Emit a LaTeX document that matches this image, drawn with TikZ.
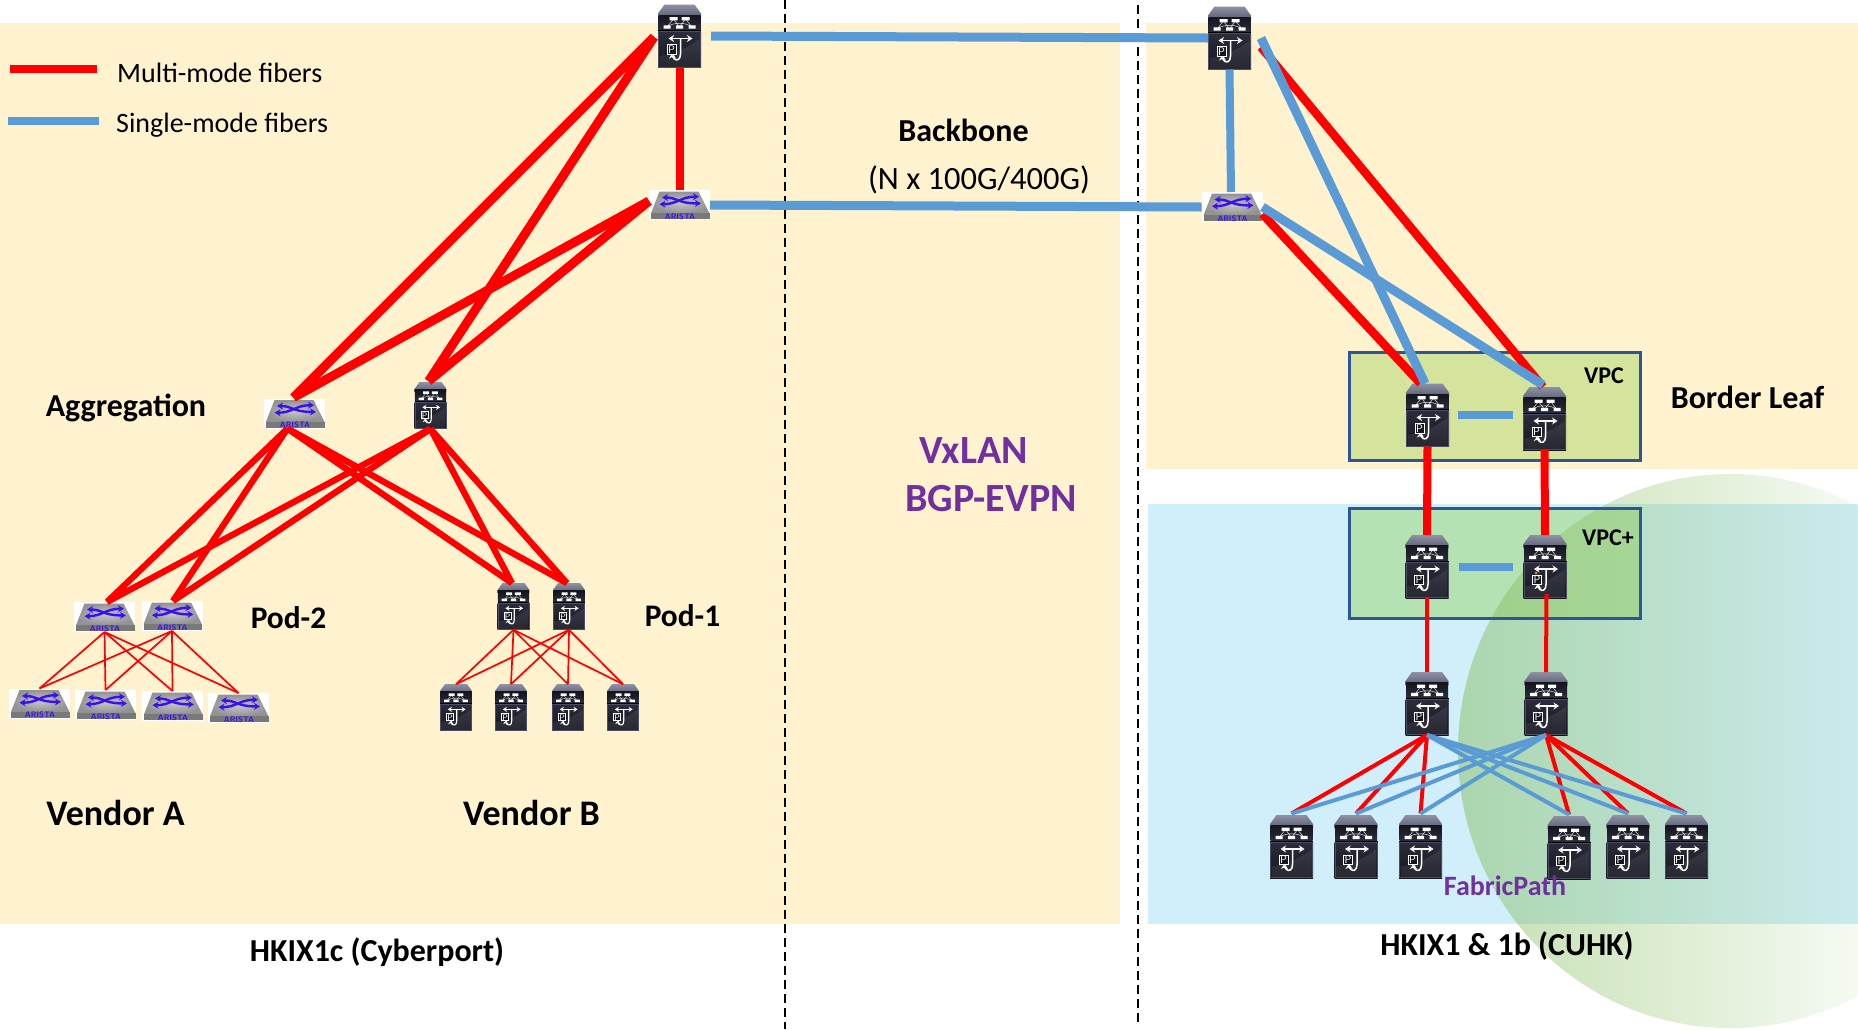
\documentclass[tikz,border=0pt]{standalone}
\usepackage{fontspec}
\setmainfont{Carlito}
\usetikzlibrary{arrows.meta}
\definecolor{cream}{HTML}{FFF2CF}
\definecolor{skyb}{HTML}{D0EFFB}
\definecolor{vpcg}{HTML}{D4E49C}
\definecolor{vpcp}{HTML}{B5E2B2}
\definecolor{boxb}{HTML}{2F5597}
\definecolor{fibb}{HTML}{5B9BD5}
\definecolor{fibr}{HTML}{FF0000}
\definecolor{purp}{HTML}{7030A0}
\definecolor{circg}{RGB}{135,190,95}
\definecolor{aris}{HTML}{3A10F0}
\definecolor{cisA}{HTML}{14151E}
\definecolor{cisB}{HTML}{2B2D3C}
\definecolor{cisC}{HTML}{8E90A3}
\definecolor{cisD}{HTML}{5A5C70}
\definecolor{cisE}{HTML}{4A4D64}
\tikzset{
  txt/.style={inner sep=0pt,font=\fontsize{#1}{#1}\selectfont},
  txb/.style={inner sep=0pt,font=\fontsize{#1}{#1}\selectfont\bfseries},
  redw/.style={draw=fibr,line width=8pt},
  redd/.style={draw=fibr,line width=9pt},
  bluw/.style={draw=fibb,line width=9pt},
  redm/.style={draw=fibr,line width=6.3pt},
  redn/.style={draw=fibr,line width=4pt},
  blun/.style={draw=fibb,line width=4pt},
  redt/.style={draw=fibr,line width=1.7pt},
  sitedash/.style={draw=black,line width=1.8pt,dash pattern=on 9pt off 5pt},
  iconbox/.style={inner sep=0pt,outer sep=0pt,rectangle},
}
% name, x, y, scale
\newcommand\ciscoicon[4]{%
  \node[iconbox,minimum width=#4*43pt,minimum height=#4*63pt] (#1) at (#2,#3) {};
  \begin{scope}[shift={(#2,#3)},scale=#4]
    \pgfmathsetmacro\csz{#4*11}
    \pgfmathsetmacro\cal{#4*5.5}
    \pgfmathsetmacro\caw{#4*7}
    \shade[top color=cisC,bottom color=cisD]
      (-15,-31.5) -- (15,-31.5) -- (21.5,-22.5) -- (21.5,-18) -- (-21.5,-18) -- (-21.5,-22.5) -- cycle;
    \shade[top color=cisA,bottom color=cisB]
      (-21,-21) rectangle (21,-6);
    \fill[black] (-21.5,-6) rectangle (21.5,-4.5);
    \shade[top color=cisB,bottom color=cisA]
      (-21.5,-4.5) rectangle (21.5,31.5);
    \fill[white,opacity=.08] (-20,31) -- (-20,20) .. controls (0,17) and (10,10) .. (20,3) -- (20,31) -- cycle;
    \draw[cisE,line width=#4*.9pt] (-21,-4.5) rectangle (21,31.2);
    \draw[white!75!gray,line width=#4*.5pt] (-12.5,-9) -- (-6,-17) -- (0,-9) -- (6,-17) -- (12.5,-9)
      (-12.5,-9) .. controls (-6,-14) and (6,-14) .. (12.5,-9);
    \fill[white] (-10,-19) rectangle (-2,-15.7) (2,-19) rectangle (10,-15.7)
      (-16,-10.7) rectangle (-9,-7.3) (-3.5,-10.7) rectangle (3.5,-7.3) (9,-10.7) rectangle (16,-7.3);
    \draw[white,line width=#4*1.5pt,{Stealth[length=\cal pt,width=\caw pt,open]}-{Stealth[length=\cal pt,width=\caw pt,open]}] (-11,2.5) -- (13,2.5);
    \draw[white,line width=#4*1.5pt,-{Stealth[length=\cal pt,width=\caw pt,open]}]
      (1,2.5) -- (1,18) .. controls (1,24) and (-3,25) .. (-5,23) .. controls (-7,21) and (-7,20) .. (-7,17);
    \draw[white,fill=cisA,line width=#4*1pt] (-12.5,8.5) rectangle (-3.5,18);
    \node[inner sep=0pt,text=white,font=\fontsize{\csz}{\csz}\selectfont\sffamily] (#1-p) at (-8,13.2) {P};
  \end{scope}
}
\newcommand\aristaicon[3]{%
  \node[iconbox,minimum width=61pt,minimum height=30pt,fill=white] (#1) at (#2,#3) {};
  \begin{scope}[shift={(#2,#3)}]
    \shade[inner color=gray!45,outer color=gray!85]
      (-20,-13.5) -- (19,-13.5) -- (30,8.3) -- (-28.5,8.3) -- cycle;
    \fill[gray!95!black] (-28.5,8.3) rectangle (30,14.3);
    \draw[aris,line width=2.4pt,{Stealth[length=6pt,width=7pt]}-{Stealth[length=6pt,width=7pt]}]
      (-17.5,-7.5) .. controls (-2,-7.5) and (-2,-1.6) .. (21.5,-1.6);
    \draw[aris,line width=2.4pt,{Stealth[length=6pt,width=7pt]}-{Stealth[length=6pt,width=7pt]}]
      (-20,-.8) .. controls (-2,-.8) and (1,-8.3) .. (19.5,-8.3);
    \node[inner sep=0pt,text=aris,font=\fontsize{8}{8}\selectfont\bfseries\sffamily] (#1-l) at (0.5,11.3) {ARISTA};
  \end{scope}
}
\begin{document}
\begin{tikzpicture}[x=1pt,y=-1pt]
\useasboundingbox (0,0) rectangle (1858,1029);
% zones
\fill[cream] (0,23) rectangle (1120,923.5);
\fill[cream] (1146,23) rectangle (1858,469);
\fill[skyb] (1148,504) rectangle (1858,924);
\fill[vpcg] (1349,352) rectangle (1640,460);
\fill[vpcp] (1349,508) rectangle (1640,618);
% translucent disc, fading to the right
\begin{scope}
  \clip (1730,751) ellipse [x radius=272,y radius=277];
  \foreach \i in {0,...,50}{
    \pgfmathsetmacro\op{0.50-0.42*\i/50}
    \fill[circg,fill opacity=\op] ({1456+8*\i},470) rectangle ({1464+8*\i},1029);
  }
\end{scope}
\draw[boxb,line width=3pt] (1349,352) rectangle (1640,460);
\draw[boxb,line width=3pt] (1349,508) rectangle (1640,618);
% site borders
\coordinate (d1t) at (785,0);
\coordinate (d1b) at (785,1029);
\coordinate (d2t) at (1138,5);
\coordinate (d2b) at (1138,1022);
% icons
\ciscoicon{tl}{679.5}{36}{1}
\aristaicon{al}{679.5}{205}
\ciscoicon{tr}{1229.5}{38}{1}
\aristaicon{ar}{1232}{207}
\aristaicon{agga}{294.5}{413.5}
\ciscoicon{aggc}{430.5}{405.5}{.74}
\aristaicon{pa}{104.5}{617}
\aristaicon{pb}{172}{616}
\aristaicon{la}{39.5}{703.5}
\aristaicon{lb}{105.5}{705}
\aristaicon{lc}{172.5}{706}
\aristaicon{ld}{238.5}{708}
\ciscoicon{qa}{513.5}{606.5}{.74}
\ciscoicon{qb}{569}{606.5}{.74}
\ciscoicon{ma}{456}{707.5}{.74}
\ciscoicon{mb}{511}{707.5}{.74}
\ciscoicon{mc}{568}{707.5}{.74}
\ciscoicon{md}{623}{707.5}{.74}
\ciscoicon{bla}{1427.5}{415}{1}
\ciscoicon{blb}{1544.5}{418.5}{1}
\ciscoicon{vpa}{1427}{566.5}{1}
\ciscoicon{vpb}{1545}{566.5}{1}
\ciscoicon{fa}{1427}{703.5}{1}
\ciscoicon{fb}{1546}{703.5}{1}
\ciscoicon{ea}{1291.5}{846.5}{1}
\ciscoicon{eb}{1356}{846.5}{1}
\ciscoicon{ec}{1420.5}{846.5}{1}
\ciscoicon{ed}{1569}{847.5}{1}
\ciscoicon{ee}{1628}{846.5}{1}
\ciscoicon{ef}{1686.5}{846.5}{1}
\fill[orange] (1536,573) circle (1.5);
% dashed
\draw[sitedash] (d1t) -- (d1b);
\draw[sitedash] (d2t) -- (d2b);
% legend
\coordinate (l1a) at (10,69); \coordinate (l1b) at (97,69);
\coordinate (l2a) at (8,121); \coordinate (l2b) at (99,121);
\draw[redw] (l1a) -- (l1b);
\draw[bluw,line width=8pt] (l2a) -- (l2b);
% backbone
\draw[bluw] ([xshift=10pt]tl.east) -- (tr.west);
\draw[bluw] (al.east) -- (ar.west);
\draw[bluw,line width=8pt] (tr.south) -- ([xshift=-1pt]ar.north);
\draw[redw] (tl.south) -- (al.north);
% left fabric
\draw[redd] ([xshift=-4pt,yshift=-1pt]tl.west) -- ([xshift=-1pt,yshift=1pt]agga.north);
\draw[redd] ([xshift=-4pt,yshift=-1pt]tl.west) -- ([xshift=-2pt,yshift=1pt]aggc.north);
\draw[redd] ([yshift=4pt]al.west) -- ([xshift=-1pt,yshift=1pt]agga.north);
\draw[redd] ([yshift=4pt]al.west) -- ([xshift=-2pt,yshift=1pt]aggc.north);
\foreach \t/\dx in {pa/2.5,pb/1}{
  \draw[redm] ([xshift=-7pt]agga.south) -- ([xshift=\dx pt]\t.north);
  \draw[redm] (aggc.south) -- ([xshift=\dx pt]\t.north);
}
\foreach \t/\dx in {qa/-1.5,qb/-2}{
  \draw[redm] ([xshift=-7pt]agga.south) -- ([xshift=\dx pt]\t.north);
  \draw[redm] (aggc.south) -- ([xshift=\dx pt]\t.north);
}
\foreach \s in {pa,pb}{
  \foreach \t in {la,lb,lc,ld}{
    \draw[redt] (\s.south) -- (\t.north);
  }
}
\foreach \s in {qa,qb}{
  \foreach \t in {ma,mb,mc,md}{
    \draw[redt] (\s.south) -- (\t.north);
  }
}
% right fabric
\draw[redw,line width=8.5pt] ([xshift=10pt,yshift=-9pt]tr.east) -- ([xshift=-1.5pt]blb.north);
\draw[redw,line width=8.5pt] ([yshift=-7pt]ar.east) -- ([xshift=-7pt]bla.north);
\draw[bluw] ([xshift=10pt]tr.east) -- ([xshift=-2.5pt]bla.north);
\draw[bluw] (ar.east) -- ([xshift=-1.5pt,yshift=2pt]blb.north);
\draw[redw] (bla.south) -- (vpa.north);
\draw[redw] (blb.south) -- (vpb.north);
\draw[bluw,line width=8pt] ([xshift=9pt]bla.east) -- ([xshift=-10pt,yshift=3.5pt]blb.west);
\draw[bluw,line width=8pt] ([xshift=10pt]vpa.east) -- ([xshift=-11pt]vpb.west);
\draw[redn] (vpa.south) -- (fa.north);
\draw[redn] ([xshift=1.5pt,yshift=4pt]vpb.south) -- (fb.north);
\foreach \t in {ea,eb,ec}{
  \draw[redn] (fa.south) -- ([yshift=1.5pt]\t.north);
}
\foreach \t in {ed,ee,ef}{
  \draw[redn] (fb.south) -- ([yshift=1.5pt]\t.north);
}
\foreach \t in {ea,eb,ec}{
  \draw[blun] (fb.south) -- ([yshift=1.5pt]\t.north);
}
\foreach \t in {ed,ee,ef}{
  \draw[blun] (fa.south) -- ([yshift=1.5pt]\t.north);
}
% labels
\node[txt=28,anchor=west] (t1) at (117,73) {Multi-mode fibers};
\node[txt=28,anchor=west] (t2) at (116,125) {Single-mode fibers};
\node[txb=32] (t3) at (963.5,130) {Backbone};
\node[txt=32.5] (t4) at (979,180) {(N x 100G/400G)};
\node[txb=32] (t5) at (126,408) {Aggregation};
\node[txb=31.4] (t6) at (288.5,618) {Pod-2};
\node[txb=31.4] (t7) at (682.5,615.5) {Pod-1};
\node[txb=36] (t8) at (115.5,813) {Vendor A};
\node[txb=36] (t9) at (531.5,813) {Vendor B};
\node[txb=32] (t10) at (377,952) {HKIX1c (Cyberport)};
\node[txb=32] (t11) at (1507,946) {HKIX1 \& 1b (CUHK)};
\node[txb=32] (t12) at (1747.5,397) {Border Leaf};
\node[txb=24] (t13) at (1604,376) {VPC};
\node[txb=24] (t14) at (1608,538) {VPC+};
\node[txb=40,text=purp] (t15) at (973.5,451) {VxLAN};
\node[txb=40,text=purp] (t16) at (991,499) {BGP-EVPN};
\node[txb=28,text=purp] (t17) at (1505,886) {FabricPath};
\end{tikzpicture}
\end{document}
